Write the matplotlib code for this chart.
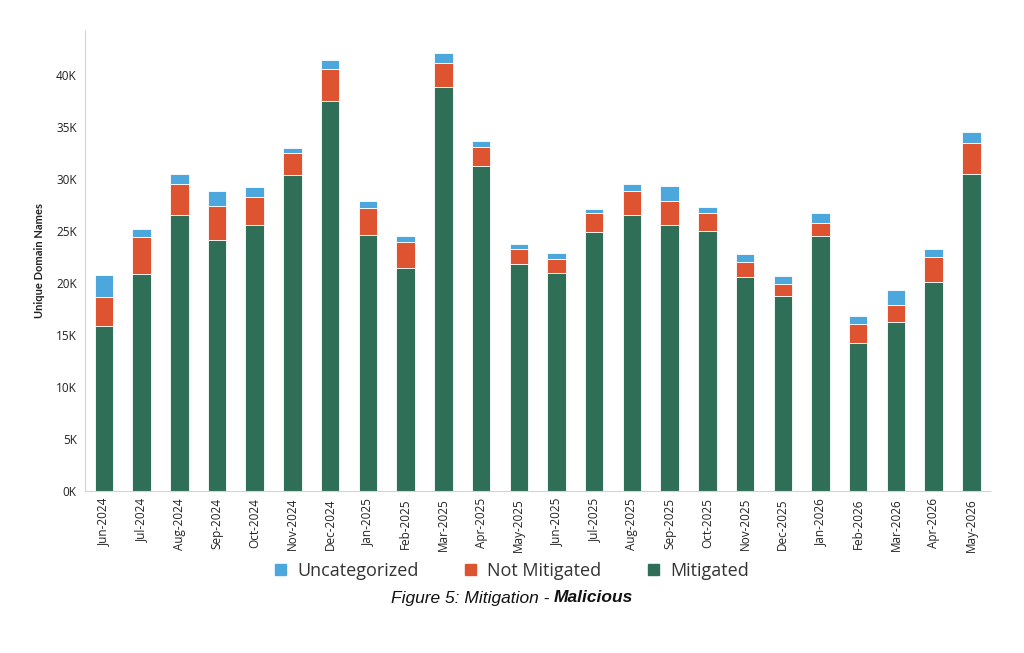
import matplotlib.pyplot as plt
import numpy as np

# months on the x axis
months = ["Jun-2024", "Jul-2024", "Aug-2024", "Sep-2024", "Oct-2024", "Nov-2024",
          "Dec-2024", "Jan-2025", "Feb-2025", "Mar-2025", "Apr-2025", "May-2025",
          "Jun-2025", "Jul-2025", "Aug-2025", "Sep-2025", "Oct-2025", "Nov-2025",
          "Dec-2025", "Jan-2026", "Feb-2026", "Mar-2026", "Apr-2026", "May-2026"]

# values (thousands)
mitigated = [15.9, 20.9, 26.5, 24.1, 25.6, 30.4, 37.5, 24.6, 21.4, 38.8, 31.2, 21.8,
             21.0, 24.9, 26.5, 25.6, 25.0, 20.6, 18.75, 24.5, 14.2, 16.2, 20.1, 30.5]
not_mitigated = [2.7, 3.5, 3.0, 3.3, 2.7, 2.1, 3.1, 2.6, 2.5, 2.3, 1.9, 1.5,
                 1.3, 1.8, 2.3, 2.3, 1.7, 1.45, 1.15, 1.3, 1.9, 1.7, 2.4, 2.9]
uncategorized = [2.2, 0.8, 1.0, 1.4, 0.9, 0.5, 0.8, 0.7, 0.6, 1.0, 0.5, 0.4,
                 0.6, 0.4, 0.75, 1.4, 0.6, 0.75, 0.8, 0.9, 0.7, 1.4, 0.8, 1.1]

c_mit = "#306F57"
c_not = "#DE5330"
c_unc = "#4CA7DD"

mit = np.array(mitigated) * 1000
notm = np.array(not_mitigated) * 1000
unc = np.array(uncategorized) * 1000
x = np.arange(len(months))

fig = plt.figure(figsize=(10.24, 6.53), dpi=100)
ax = fig.add_axes([0.083, 0.248, 0.884, 0.706])

w = 0.49
ax.bar(x, mit, w, color=c_mit, edgecolor="white", linewidth=0.6)
ax.bar(x, notm, w, bottom=mit, color=c_not, edgecolor="white", linewidth=0.6)
ax.bar(x, unc, w, bottom=mit + notm, color=c_unc, edgecolor="white", linewidth=0.6)

ax.set_xlim(-0.5, len(months) - 0.5)
ax.set_ylim(0, 44300)
ax.set_yticks(np.arange(0, 40001, 5000))
ax.set_yticklabels([f"{int(v/1000)}K" for v in np.arange(0, 40001, 5000)],
                   fontsize=8.5, color="#222222", family="Open Sans")
ax.set_xticks(x)
ax.set_xticklabels(months, rotation=90, fontsize=8.5, color="#222222", family="Open Sans")
ax.tick_params(axis="y", length=0, pad=6)
ax.tick_params(axis="x", length=0, pad=5)
ax.set_ylabel("Unique Domain Names", fontsize=8, fontweight="bold",
              color="#222222", family="Lato", labelpad=8)

for s in ["top", "right"]:
    ax.spines[s].set_visible(False)
ax.spines["left"].set_color("#d4d4d4")
ax.spines["bottom"].set_color("#d4d4d4")

# legend row
handles = [plt.Rectangle((0, 0), 1, 1, color=c) for c in [c_unc, c_not, c_mit]]
fig.legend(handles, ["Uncategorized", "Not Mitigated", "Mitigated"],
           loc="center", bbox_to_anchor=(0.5, 1 - 571 / 653), ncol=3,
           frameon=False, prop={"family": "Open Sans", "size": 13},
           handlelength=0.6, handleheight=0.6, handletextpad=0.6,
           columnspacing=2.6, labelcolor="#333333")

# caption
fig.text(0.541, 1 - 598 / 653, "Figure 5: Mitigation - ", ha="right", va="center",
         fontsize=12.5, style="italic", family="Liberation Sans", color="#111111")
fig.text(0.541, 1 - 598 / 653, "Malicious", ha="left", va="center",
         fontsize=12.5, style="italic", fontweight="bold", family="Liberation Sans",
         color="#111111")

fig.savefig("out.png", dpi=100)
